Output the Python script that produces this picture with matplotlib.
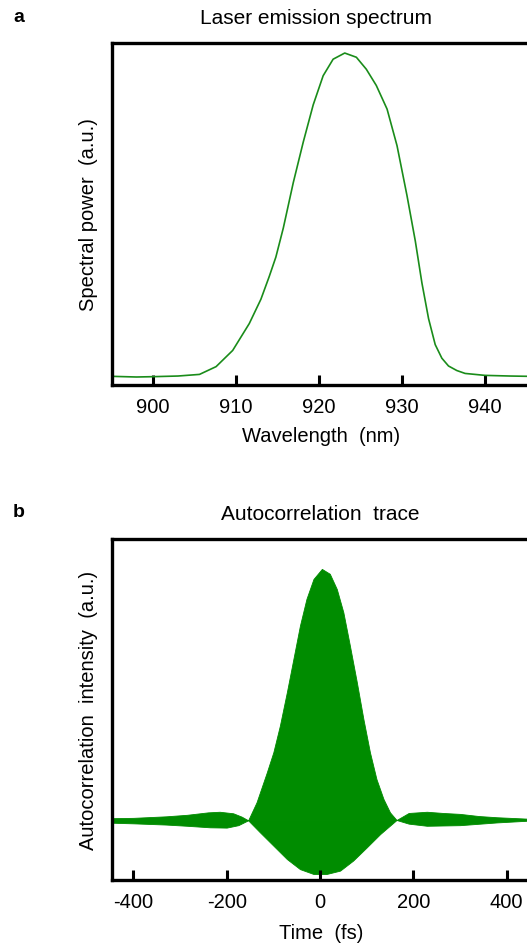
import matplotlib
matplotlib.use('Agg')
import matplotlib.pyplot as plt

plt.rcParams['font.family'] = ['Liberation Sans', 'DejaVu Sans']
plt.rcParams['axes.unicode_minus'] = False

# spectrum (nm, normalised power)
wavelength = [895.1, 898.0, 900.0, 903.0, 905.6, 907.6, 909.6, 911.6, 913.0, 914.0,
              914.8, 915.7, 916.9, 918.1, 919.3, 920.5, 921.7, 923.1, 924.5, 925.7,
              926.9, 928.2, 929.4, 930.6, 931.6, 932.4, 933.2, 934.0, 934.8, 935.6,
              936.6, 937.6, 940.0, 943.0, 945.4]
power = [0.002, 0.0, 0.001, 0.003, 0.008, 0.032, 0.082, 0.165, 0.24, 0.31,
         0.37, 0.46, 0.60, 0.725, 0.84, 0.93, 0.981, 1.0, 0.987, 0.95,
         0.90, 0.827, 0.714, 0.56, 0.42, 0.29, 0.18, 0.10, 0.058, 0.034,
         0.02, 0.011, 0.005, 0.003, 0.002]

# autocorrelation fringe envelopes (fs, normalised)
t_up = [-446, -400, -330, -285, -240, -215, -186, -168, -154, -136, -114, -100, -86,
        -71, -57, -43, -29, -14, 4, 21, 36, 50, 64, 79, 93, 107, 121, 136, 150, 164,
        190, 229, 264, 300, 340, 379, 450]
env_up = [0.183, 0.184, 0.189, 0.194, 0.202, 0.204, 0.199, 0.188, 0.176, 0.235, 0.333,
          0.399, 0.486, 0.596, 0.705, 0.814, 0.902, 0.967, 1.0, 0.984, 0.934, 0.858,
          0.749, 0.628, 0.508, 0.399, 0.311, 0.246, 0.202, 0.177, 0.2, 0.204, 0.20,
          0.197, 0.19, 0.186, 0.181]
t_lo = [-446, -400, -330, -285, -236, -200, -175, -154, -129, -100, -71, -43, -14,
        14, 43, 71, 100, 129, 164, 190, 229, 300, 379, 450]
env_lo = [0.168, 0.166, 0.162, 0.158, 0.153, 0.152, 0.16, 0.176, 0.137, 0.093, 0.049,
          0.016, 0.0, 0.0, 0.011, 0.044, 0.087, 0.131, 0.177, 0.165, 0.158, 0.16,
          0.169, 0.175]
baseline = 0.177

a_ticks = [900, 910, 920, 930, 940]
b_ticks = [-400, -200, 0, 200, 400]

W, H = 527, 945
fig = plt.figure(figsize=(W / 100, H / 100), dpi=100)

def px_axes(left, top, right, bottom):
    return fig.add_axes([left / W, 1 - bottom / H, (right - left) / W, (bottom - top) / H])

def style(ax, ticks):
    for s in ax.spines.values():
        s.set_linewidth(2.4)
    ax.spines['right'].set_visible(False)
    ax.set_xticks(ticks)
    ax.set_yticks([])
    ax.tick_params(axis='x', direction='in', length=7, width=2.2, pad=9, labelsize=14.5)

ax1 = px_axes(112, 44, 530, 386)
ax1.plot(wavelength, power, color='#1a8c1a', lw=1.2)
ax1.set_xlim(895.06, 945.42)
ax1.set_ylim(-0.0247, 1.031)
style(ax1, a_ticks)
ax1.set_xlabel('Wavelength  (nm)', fontsize=14.5, labelpad=7)
ax1.set_ylabel('Spectral power  (a.u.)', fontsize=14.5, labelpad=10)

ax2 = px_axes(112, 540, 530, 881)
ax2.fill_between(t_up, env_up, [baseline] * len(t_up), color='#008c00', lw=0.6)
ax2.fill_between(t_lo, env_lo, [baseline] * len(t_lo), color='#008c00', lw=0.6)
ax2.set_xlim(-445.7, 450)
ax2.set_ylim(-0.0197, 1.098)
style(ax2, b_ticks)
ax2.set_xlabel('Time  (fs)', fontsize=14.5, labelpad=8)
ax2.set_ylabel('Autocorrelation  intensity  (a.u.)', fontsize=14.5, labelpad=10)

fig.text(13 / W, 1 - 17 / H, 'a', fontsize=14, fontweight='bold', va='center')
fig.text(316 / W, 1 - 18 / H, 'Laser emission spectrum', fontsize=15, ha='center', va='center')
fig.text(13 / W, 1 - 513 / H, 'b', fontsize=14, fontweight='bold', va='center')
fig.text(320 / W, 1 - 515 / H, 'Autocorrelation  trace', fontsize=15, ha='center', va='center')

plt.savefig('out.png', dpi=100)
